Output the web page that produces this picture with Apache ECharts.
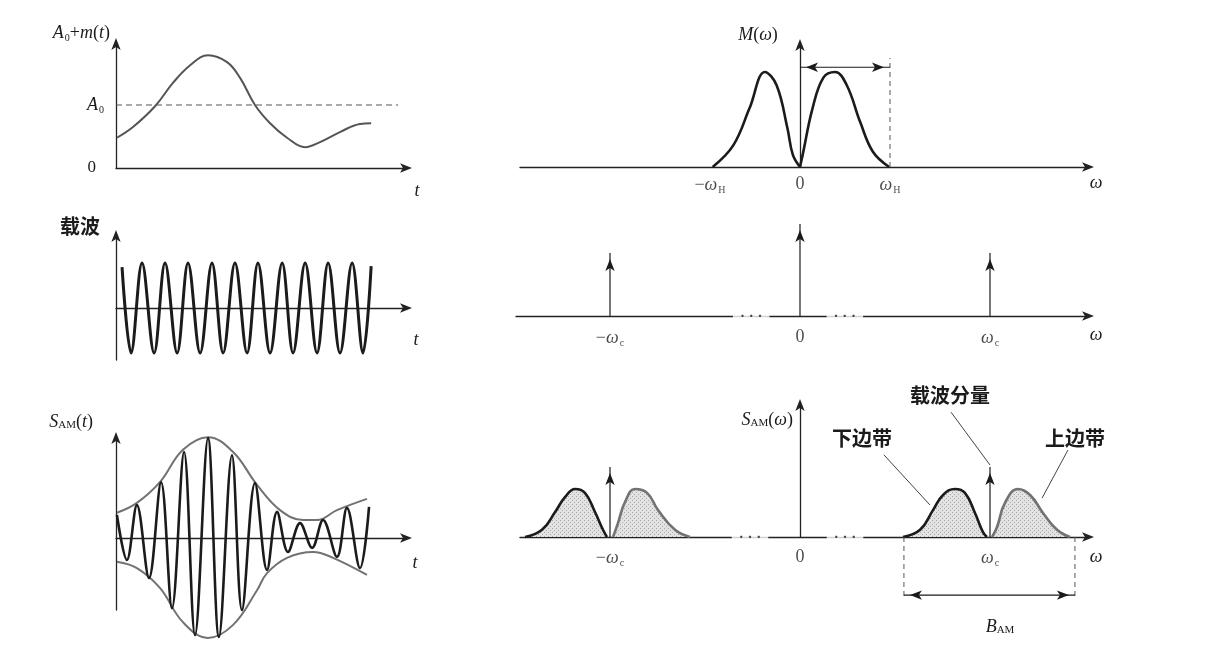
<!DOCTYPE html>
<html>
<head>
<meta charset="utf-8">
<script src="https://cdn.jsdelivr.net/npm/echarts@6/dist/echarts.min.js"></script>
<style>html,body{margin:0;padding:0;background:#fff}#c{width:1231px;height:666px}</style>
</head>
<body>
<div id="c"></div>
<script>
// ===================== DATA =====================
// Panel 1: A0 + m(t)
const msgT = [0.04, 0.73, 1.68, 2.45, 3.19, 3.96, 4.78, 5.34, 5.98, 6.63, 7.36, 8.14, 8.78, 9.64, 10.5, 10.98];
const msgV = [0.48, 0.65, 0.98, 1.35, 1.63, 1.79, 1.68, 1.43, 1.00, 0.71, 0.48, 0.33, 0.41, 0.57, 0.70, 0.71];
const a0Level = 1;
const a0DashEnd = 12.14;
const panel1YTicks = ['0', 'A0'];

// Panel 2: carrier (extremes)
const carrierT = [0.26, 0.65, 1.12, 1.64, 2.11, 2.63, 3.10, 3.62, 4.13, 4.61, 5.12, 5.64, 6.11, 6.63, 7.15, 7.62, 8.14, 8.65, 9.13, 9.64, 10.16, 10.63, 10.98];
const carrierV = [0.91, -1, 1, -1, 1, -1, 1, -1, 1, -1, 1, -1, 1, -1, 1, -1, 1, -1, 1, -1, 1, -1, 0.93];

// Panel 3: AM signal and its envelope
const amT = [0.04, 0.47, 0.90, 1.42, 1.94, 2.41, 2.93, 3.40, 3.96, 4.43, 4.99, 5.42, 5.98, 6.50, 6.93, 7.40, 7.92, 8.44, 8.91, 9.51, 9.94, 10.50, 10.89];
const amV = [0.51, -0.49, 0.73, -0.89, 1.24, -1.56, 1.91, -2.16, 2.22, -2.20, 1.84, -1.60, 1.22, -0.71, 0.58, -0.31, 0.33, -0.22, 0.40, -0.42, 0.67, -0.67, 0.69];
const envUpT = [0.04, 0.90, 1.89, 2.88, 3.96, 5.04, 6.07, 7.06, 8.05, 8.65, 9.51, 10.8];
const envUpV = [0.56, 0.78, 1.24, 1.96, 2.24, 1.91, 1.18, 0.62, 0.40, 0.40, 0.62, 0.87];
const envLoT = [0.04, 0.90, 1.89, 2.88, 3.96, 5.04, 6.07, 6.50, 7.36, 8.48, 9.34, 10.8];
const envLoV = [-0.53, -0.67, -1.11, -1.87, -2.22, -1.93, -1.16, -0.78, -0.44, -0.31, -0.44, -0.82];

// Panel 4: M(omega)
const mLeftW = [-0.97, -0.74, -0.56, -0.39, -0.26, -0.14, -0.08, 0];
const mLeftV = [0, 0.23, 0.62, 1.0, 0.86, 0.41, 0.13, 0];
const mRightW = [0, 0.03, 0.14, 0.26, 0.39, 0.52, 0.67, 0.81, 0.99];
const mRightV = [0, 0.13, 0.62, 0.94, 1.0, 0.86, 0.47, 0.16, 0];
const omegaH = 1;
const mBandArrowLevel = 1.05;
const mDashTop = 1.147;
const mTickPos = [-1, 0, 1];
const mTickLabels = ['{n|−}{i|ω}{s|H}', '{n|0}', '{i|ω}{s|H}'];

// Panel 5: carrier spectrum
const carSpecW = [-1, 0, 1];
const carSpecH = [1.0, 1.46, 1.0];
const carSpecGaps = [-0.257, 0.236];
const carTickPos = [-1, 0, 1];
const carTickLabels = ['{n|−}{i|ω}{s|c}', '{n|0}', '{i|ω}{s|c}'];

// Panel 6: AM spectrum
const negOuterW = [-1.447, -1.358, -1.289, -1.237, -1.184, -1.132, -1.079, -1.037, -1.016];
const negOuterV = [0, 0.15, 0.52, 0.83, 1.0, 0.92, 0.52, 0.15, 0];
const negInnerW = [-0.984, -0.958, -0.921, -0.868, -0.805, -0.747, -0.658, -0.579];
const negInnerV = [0, 0.29, 0.73, 1.0, 0.92, 0.56, 0.15, 0];
const lsbW = [0.542, 0.632, 0.700, 0.753, 0.816, 0.868, 0.921, 0.963, 0.984];
const lsbV = [0, 0.15, 0.56, 0.875, 1.0, 0.92, 0.50, 0.10, 0];
const usbW = [1.011, 1.037, 1.079, 1.147, 1.211, 1.279, 1.353, 1.421];
const usbV = [0, 0.21, 0.71, 1.0, 0.875, 0.50, 0.15, 0];
const amImpW = [-1, 1];
const amImpH = [1.46, 1.46];
const bandEdges = [0.547, 1.447];
const bandArrowLevel = -1.21;
const bandDashBottom = -1.31;
const amSpecGaps = [-0.263, 0.237];
const amTickPos = [-1, 0, 1];
const amTickLabels = ['{n|−}{i|ω}{s|c}', '{n|0}', '{i|ω}{s|c}'];
const leaderLSB = [[0.442, 1.71], [0.684, 0.667]];
const leaderCarrier = [[0.795, 2.60], [1.0, 1.50]];
const leaderUSB = [[1.41, 1.81], [1.274, 0.81]];

// ===================== STYLE =====================
const SERIF = "'Liberation Serif','DejaVu Serif',serif";
const CJK = "'Noto Sans CJK SC','Noto Sans CJK JP',sans-serif";
const INK = '#1b1b1b';
const GRAY = '#727272';
const rich = {
  i: {fontFamily: SERIF, fontStyle: 'italic', fontSize: 18, color: INK},
  n: {fontFamily: SERIF, fontSize: 18, color: INK},
  s: {fontFamily: SERIF, fontSize: 10, color: INK, padding: [10, 0, 0, 1]},
  a: {fontFamily: SERIF, fontSize: 11, color: INK, padding: [6, 0, 0, 0]},
  z: {fontFamily: SERIF, fontSize: 17, color: INK, padding: [0, 8, 0, 0]}
};

// stippled light-gray fill like the printed figure
const stipple = document.createElement('canvas');
stipple.width = 4; stipple.height = 4;
(function () {
  const g = stipple.getContext('2d');
  g.fillStyle = '#e2e2e2'; g.fillRect(0, 0, 4, 4);
  g.fillStyle = '#a9a9a9'; g.fillRect(0, 0, 1, 1); g.fillRect(2, 2, 1, 1);
})();

const pairs = (xs, ys) => xs.map((x, i) => [x, ys[i]]);

function axisLineStyle(show) {
  return {show: show, onZero: true, symbol: ['none', 'arrow'], symbolSize: [7, 12], symbolOffset: [0, 6],
    lineStyle: {color: '#222', width: 1.3}};
}
function mkX(gi, min, max) {
  return {type: 'value', gridIndex: gi, min, max, splitLine: {show: false}, axisTick: {show: false},
    axisLabel: {show: false}, axisLine: axisLineStyle(true)};
}
function mkY(gi, min, max, show) {
  return {type: 'value', gridIndex: gi, min, max, splitLine: {show: false}, axisTick: {show: false},
    axisLabel: {show: false}, axisLine: axisLineStyle(show), show: show};
}
function curve(gi, xs, ys, color, width, extra) {
  return Object.assign({type: 'line', xAxisIndex: gi, yAxisIndex: gi, data: pairs(xs, ys), symbol: 'none',
    smooth: 0.4, clip: false, silent: true, lineStyle: {color, width}}, extra || {});
}
function tip(pt, dir, color) {
  const rot = {up: 0, right: -90, left: 90, down: 180}[dir];
  const off = {up: [0, 6], right: [-6, 0], left: [6, 0], down: [0, -6]}[dir];
  return {value: pt, symbol: 'arrow', symbolSize: [7, 12], symbolRotate: rot, symbolOffset: off, itemStyle: {color}};
}
function arrowSeg(gi, from, to, dirEnd, color, width, dirStart) {
  const a = dirStart ? tip(from, dirStart, color) : {value: from, symbol: 'none'};
  return {type: 'line', xAxisIndex: gi, yAxisIndex: gi, data: [a, tip(to, dirEnd, color)], symbol: 'none',
    showSymbol: true, clip: false, silent: true, lineStyle: {color, width}};
}
function seg(gi, pts, color, width, type) {
  return {type: 'line', xAxisIndex: gi, yAxisIndex: gi, data: pts, symbol: 'none', clip: false, silent: true,
    lineStyle: {color, width, type: type || 'solid'}};
}
function labels(gi, xs, texts, dist) {
  return {type: 'scatter', xAxisIndex: gi, yAxisIndex: gi, data: xs.map(x => [x, 0]), symbolSize: 1,
    itemStyle: {color: 'rgba(0,0,0,0)'}, silent: true, clip: false,
    label: {show: true, position: 'bottom', distance: dist, formatter: p => texts[p.dataIndex], rich}};
}
function gaps(gi, xs) {
  return {type: 'scatter', xAxisIndex: gi, yAxisIndex: gi, data: xs.map(x => [x, 0]), symbolSize: 1,
    itemStyle: {color: 'rgba(0,0,0,0)'}, silent: true, clip: false, z: 5,
    label: {show: true, position: 'inside', formatter: '· · ·', backgroundColor: '#fff', padding: [2, 7],
      offset: [0, 1], fontFamily: SERIF, fontSize: 15, fontWeight: 'bold', color: INK}};
}
function lobe(gi, xs, ys, color) {
  return curve(gi, xs, ys, color, 2.6, {smooth: 0.45,
    areaStyle: {color: {image: stipple, repeat: 'repeat'}, opacity: 1}});
}

const grids = [
  {left: 116, top: 44, width: 290, height: 124},
  {left: 116, top: 236, width: 290, height: 124},
  {left: 116, top: 438, width: 290, height: 172},
  {left: 520, top: 45, width: 568, height: 122},
  {left: 516, top: 224, width: 572, height: 92},
  {left: 520, top: 405, width: 568, height: 132}
];

const xAxes = [
  mkX(0, 0, 12.48), mkX(1, 0, 12.48), mkX(2, 0, 12.48),
  mkX(3, -3.111, 3.2), mkX(4, -1.4947, 1.5158), mkX(5, -1.4737, 1.5158)
];
const y0 = mkY(0, 0, 1.968, true);
y0.interval = 1;
y0.axisLabel = {show: true, margin: 12, rich,
  formatter: v => v === 0 ? '{z|' + panel1YTicks[0] + '}' : (v === 1 ? '{i|A}{s|0}' : '')};
const yAxes = [
  y0, mkY(1, -1.156, 1.6, true), mkY(2, -1.6, 2.222, true),
  mkY(3, 0, 1.284, true), mkY(4, 0, 1.46, false), mkY(5, 0, 2.75, true)
];

const series = [];
// Panel 1
series.push(curve(0, msgT, msgV, '#555', 2));
series.push(seg(0, [[0, a0Level], [a0DashEnd, a0Level]], '#555', 1, [6, 4]));
// Panel 2
series.push(curve(1, carrierT, carrierV, INK, 3, {smooth: 0.36}));
// Panel 3
series.push(curve(2, envUpT, envUpV, GRAY, 2));
series.push(curve(2, envLoT, envLoV, GRAY, 2));
series.push(curve(2, amT, amV, INK, 2.6, {smooth: 0.36}));
// Panel 4
series.push(curve(3, mLeftW, mLeftV, INK, 2.6));
series.push(curve(3, mRightW, mRightV, INK, 2.6));
series.push(seg(3, [[omegaH, 0], [omegaH, mDashTop]], '#555', 1, [5, 4]));
series.push(arrowSeg(3, [0, mBandArrowLevel], [omegaH, mBandArrowLevel], 'right', INK, 1.2, 'left'));
series.push(labels(3, mTickPos, mTickLabels, 8));
// Panel 5
carSpecW.forEach((w, i) => series.push(arrowSeg(4, [w, 0], [w, carSpecH[i]], 'up', INK, 1.2)));
series.push(gaps(4, carSpecGaps));
series.push(labels(4, carTickPos, carTickLabels, 12));
// Panel 6
series.push(lobe(5, negOuterW, negOuterV, INK));
series.push(lobe(5, negInnerW, negInnerV, GRAY));
series.push(lobe(5, lsbW, lsbV, INK));
series.push(lobe(5, usbW, usbV, GRAY));
amImpW.forEach((w, i) => series.push(arrowSeg(5, [w, 0], [w, amImpH[i]], 'up', INK, 1.2)));
bandEdges.forEach(w => series.push(seg(5, [[w, 0], [w, bandDashBottom]], '#555', 1, [5, 4])));
series.push(arrowSeg(5, [bandEdges[0], bandArrowLevel], [bandEdges[1], bandArrowLevel], 'right', INK, 1.2, 'left'));
series.push(seg(5, leaderLSB, '#444', 1));
series.push(seg(5, leaderCarrier, '#444', 1));
series.push(seg(5, leaderUSB, '#444', 1));
series.push(gaps(5, amSpecGaps));
series.push(labels(5, amTickPos, amTickLabels, 11));

// Titles / annotations (text only)
function txt(x, y, text, align) {
  return {type: 'text', x, y, silent: true, style: {text, rich, align: align || 'center', verticalAlign: 'middle',
    textAlign: align || 'center', textVerticalAlign: 'middle', fill: INK, font: "18px " + SERIF}};
}
function cjk(x, y, text) {
  return {type: 'text', x, y, silent: true, style: {text, align: 'center', verticalAlign: 'middle',
    textAlign: 'center', textVerticalAlign: 'middle', fill: INK, font: "bold 20px " + CJK}};
}
const graphic = [
  txt(110, 33, '{i|A}{s|0}{n|+}{i|m}{n|(}{i|t}{n|)}', 'right'),
  txt(417, 191, '{i|t}'),
  cjk(80, 226, '载波'),
  txt(416, 340, '{i|t}'),
  txt(93, 422, '{i|S}{a|AM}{n|(}{i|t}{n|)}', 'right'),
  txt(415, 563, '{i|t}'),
  txt(758, 35, '{i|M}{n|(}{i|ω}{n|)}'),
  txt(1096, 183, '{i|ω}'),
  txt(1096, 335, '{i|ω}'),
  txt(1096, 557, '{i|ω}'),
  txt(793, 420, '{i|S}{a|AM}{n|(}{i|ω}{n|)}', 'right'),
  cjk(950, 395, '载波分量'),
  cjk(862, 438, '下边带'),
  cjk(1075, 438, '上边带'),
  txt(1000, 627, '{i|B}{a|AM}')
];

const chart = echarts.init(document.getElementById('c'), null, {renderer: 'canvas'});
chart.setOption({
  backgroundColor: '#fff',
  animation: false,
  grid: grids,
  xAxis: xAxes,
  yAxis: yAxes,
  series: series,
  graphic: graphic
});
</script>
</body>
</html>
